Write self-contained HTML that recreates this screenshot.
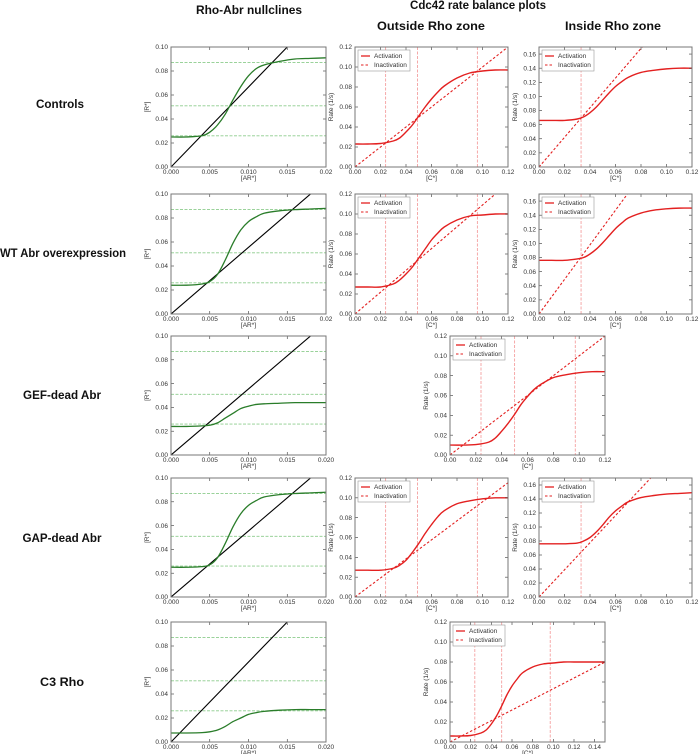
<!DOCTYPE html>
<html><head><meta charset="utf-8"><style>
html,body{margin:0;padding:0;background:#fff;}
svg{display:block;font-family:"Liberation Sans",sans-serif;}
.hdr{font-weight:bold;font-size:12px;fill:#111;}
.tk{font-size:6.5px;fill:#333;}
.al{font-size:6.5px;fill:#333;}
</style></head><body>
<svg id="fig" width="700" height="754" viewBox="0 0 700 754">
<text class="hdr" x="249" y="14" text-anchor="middle" textLength="106" lengthAdjust="spacingAndGlyphs">Rho-Abr nullclines</text>
<text class="hdr" x="478" y="9" text-anchor="middle" textLength="136" lengthAdjust="spacingAndGlyphs">Cdc42 rate balance plots</text>
<text class="hdr" x="431" y="30" text-anchor="middle" textLength="108" lengthAdjust="spacingAndGlyphs">Outside Rho zone</text>
<text class="hdr" x="613" y="30" text-anchor="middle" textLength="96" lengthAdjust="spacingAndGlyphs">Inside Rho zone</text>
<text class="hdr" x="60" y="108" text-anchor="middle" textLength="48" lengthAdjust="spacingAndGlyphs">Controls</text>
<text class="hdr" x="63" y="257" text-anchor="middle" textLength="126" lengthAdjust="spacingAndGlyphs">WT Abr overexpression</text>
<text class="hdr" x="62" y="399" text-anchor="middle" textLength="78" lengthAdjust="spacingAndGlyphs">GEF-dead Abr</text>
<text class="hdr" x="62" y="542" text-anchor="middle" textLength="79" lengthAdjust="spacingAndGlyphs">GAP-dead Abr</text>
<text class="hdr" x="62" y="686" text-anchor="middle" textLength="44" lengthAdjust="spacingAndGlyphs">C3 Rho</text>
</svg>
<script>
// ---------- Nullcline data ----------
const nullX = [0,0.002,0.004,0.005,0.006,0.007,0.008,0.009,0.010,0.011,0.012,0.014,0.016,0.018,0.020];
const greenRow1 = [0.025,0.025,0.026,0.029,0.035,0.044,0.056,0.067,0.076,0.082,0.085,0.088,0.090,0.0905,0.091];
const greenRow2 = [0.024,0.024,0.025,0.027,0.033,0.045,0.059,0.070,0.077,0.081,0.084,0.086,0.087,0.0875,0.088];
const greenRow3 = [0.024,0.024,0.0245,0.025,0.027,0.031,0.035,0.039,0.041,0.0425,0.043,0.0435,0.044,0.044,0.044];
const greenRow4 = [0.025,0.025,0.0255,0.027,0.033,0.045,0.059,0.070,0.077,0.081,0.084,0.086,0.087,0.0875,0.088];
const greenRow5 = [0.0075,0.0075,0.0078,0.0085,0.010,0.013,0.017,0.020,0.023,0.0245,0.0255,0.0265,0.027,0.027,0.027];
const blackSlopeX = [0.015,0.018,0.018,0.018,0.015]; // x where black line reaches R*=0.10
const greenDashLevels = [0.026,0.051,0.087];
const nullXTicks = [0,0.005,0.010,0.015,0.020];
const nullXTickLabelsA = ["0.000","0.005","0.010","0.015","0.02"];
const nullXTickLabelsB = ["0.000","0.005","0.010","0.015","0.020"];
const nullYTicks = [0,0.02,0.04,0.06,0.08,0.10];
const nullYTickLabels = ["0.00","0.02","0.04","0.06","0.08","0.10"];

// ---------- Rate balance data ----------
const cX = [0,0.01,0.02,0.03,0.035,0.04,0.045,0.05,0.055,0.06,0.065,0.07,0.08,0.09,0.10,0.11,0.12];
const actR1Out = [0.023,0.023,0.0235,0.026,0.029,0.035,0.042,0.051,0.060,0.068,0.075,0.081,0.089,0.094,0.096,0.097,0.097];
const actR1In  = [0.066,0.066,0.066,0.068,0.071,0.077,0.085,0.095,0.105,0.114,0.121,0.127,0.134,0.137,0.139,0.140,0.140];
const actR2Out = [0.027,0.027,0.027,0.030,0.034,0.040,0.047,0.056,0.065,0.074,0.081,0.087,0.094,0.098,0.099,0.100,0.100];
const actR2In  = [0.076,0.076,0.076,0.078,0.080,0.085,0.092,0.101,0.111,0.121,0.129,0.136,0.143,0.147,0.149,0.150,0.150];
const actR3    = [0.010,0.010,0.0105,0.013,0.017,0.024,0.032,0.041,0.051,0.059,0.066,0.071,0.078,0.081,0.083,0.084,0.084];
const actR4Out = [0.027,0.027,0.027,0.029,0.032,0.037,0.045,0.054,0.064,0.073,0.081,0.087,0.094,0.097,0.099,0.100,0.100];
const actR4In  = [0.076,0.076,0.076,0.077,0.080,0.085,0.093,0.103,0.114,0.123,0.130,0.136,0.142,0.145,0.147,0.148,0.149];
const cX5 = [0,0.01,0.02,0.03,0.035,0.04,0.045,0.05,0.055,0.06,0.065,0.07,0.08,0.09,0.10,0.11,0.12,0.13,0.14,0.15];
const actR5    = [0.006,0.006,0.0065,0.009,0.012,0.018,0.026,0.036,0.047,0.056,0.063,0.069,0.075,0.078,0.079,0.080,0.080,0.080,0.080,0.080];
const inactSlopes = {r1o:1.0, r1i:2.1, r2o:1.09, r2i:2.45, r3:1.0, r4o:0.96, r4i:1.94, r5:0.533};
const vOutside = [0.024,0.049,0.096];
const vInside = [0.033];
const vR3R5 = [0.024,0.050,0.097];
const cXTicks12 = [0,0.02,0.04,0.06,0.08,0.10,0.12];
const cXTickLabels12 = ["0.00","0.02","0.04","0.06","0.08","0.10","0.12"];
const cXTicks15 = [0,0.02,0.04,0.06,0.08,0.10,0.12,0.14];
const cXTickLabels15 = ["0.00","0.02","0.04","0.06","0.08","0.10","0.12","0.14"];
const cYTicks12 = [0,0.02,0.04,0.06,0.08,0.10,0.12];
const cYTickLabels12 = ["0.00","0.02","0.04","0.06","0.08","0.10","0.12"];
const cYTicks16 = [0,0.02,0.04,0.06,0.08,0.10,0.12,0.14,0.16];
const cYTickLabels16 = ["0.00","0.02","0.04","0.06","0.08","0.10","0.12","0.14","0.16"];

const NS="http://www.w3.org/2000/svg";
const svg=document.getElementById('fig');
function mk(tag,attrs,parent){const e=document.createElementNS(NS,tag);for(const k in attrs)e.setAttribute(k,attrs[k]);(parent||svg).appendChild(e);return e;}
function smoothPath(pts){
  let d="M"+pts[0][0].toFixed(2)+","+pts[0][1].toFixed(2);
  for(let i=0;i<pts.length-1;i++){
    const p0=pts[Math.max(0,i-1)],p1=pts[i],p2=pts[i+1],p3=pts[Math.min(pts.length-1,i+2)];
    const c1=[p1[0]+(p2[0]-p0[0])/6,p1[1]+(p2[1]-p0[1])/6];
    const c2=[p2[0]-(p3[0]-p1[0])/6,p2[1]-(p3[1]-p1[1])/6];
    d+=" C"+c1[0].toFixed(2)+","+c1[1].toFixed(2)+" "+c2[0].toFixed(2)+","+c2[1].toFixed(2)+" "+p2[0].toFixed(2)+","+p2[1].toFixed(2);
  }
  return d;
}

function axes(id,L,T,R,B,xmax,ymax,xt,xtl,yt,ytl,xlab,ylab){
  const g=mk('g',{});
  
  
  const sx=v=>L+(v/xmax)*(R-L), sy=v=>B-(v/ymax)*(B-T);
  const cid='clip-'+id;
  const cp=mk('clipPath',{id:cid},g); mk('rect',{x:L,y:T,width:R-L,height:B-T},cp);
  const plot=mk('g',{'clip-path':'url(#'+cid+')'},g);
  xt.forEach((v,i)=>{
    const x=sx(v);
    const tick=mk('line',{x1:x,x2:x,y1:B,y2:B-3,stroke:'#333','stroke-width':0.6},g);
    
    
    mk('line',{x1:x,x2:x,y1:T,y2:T+3,stroke:'#333','stroke-width':0.6},g);
    const t=mk('text',{x:x,y:B+7,'text-anchor':'middle',class:'tk'},g);
    
    
    t.textContent=xtl[i];
  });
  yt.forEach((v,i)=>{
    const y=sy(v);
    mk('line',{x1:L,x2:L+3,y1:y,y2:y,stroke:'#333','stroke-width':0.6},g);
    mk('line',{x1:R,x2:R-3,y1:y,y2:y,stroke:'#333','stroke-width':0.6},g);
    const t=mk('text',{x:L-3,y:y+2.2,'text-anchor':'end',class:'tk'},g);
    
    
    t.textContent=ytl[i];
  });
  const xl=mk('text',{x:(L+R)/2,y:B+13,'text-anchor':'middle',class:'al'},g);
  
  
  xl.textContent=xlab;
  const yx=L-22, yy=(T+B)/2;
  const yl=mk('text',{x:yx,y:yy,'text-anchor':'middle',class:'al',transform:'rotate(-90 '+yx+' '+yy+')'},g);
  
  
  yl.textContent=ylab;
  return {g,plot,sx,sy,L,T,R,B};
}
function frame(a){
  const f=mk('rect',{x:a.L,y:a.T,width:a.R-a.L,height:a.B-a.T,fill:'none',stroke:'#777','stroke-width':1},a.g);
  
  
}

function nullcline(name,L,T,R,B,green,slopeX,xtl){
  const a=axes(name,L,T,R,B,0.02,0.10,nullXTicks,xtl,nullYTicks,nullYTickLabels,'[AR*]','[R*]');
  greenDashLevels.forEach(v=>{
    const l=mk('line',{x1:L,x2:R,y1:a.sy(v),y2:a.sy(v),stroke:'#8ccc8c','stroke-width':0.9,'stroke-dasharray':'3,1.5'},a.plot);
    
    
  });
  const bl=mk('line',{x1:a.sx(0),y1:a.sy(0),x2:a.sx(slopeX*1.1),y2:a.sy(0.10*1.1),stroke:'#000','stroke-width':1.1},a.plot);
  
  
  const gp=mk('path',{d:smoothPath(nullX.map((x,i)=>[a.sx(x),a.sy(green[i])])),fill:'none',stroke:'#2a7d2a','stroke-width':1.3},a.plot);
  
  
  frame(a);
}

function rate(name,L,T,R,B,xs,act,slope,vlines,xmax,ymax,xt,xtl,yt,ytl){
  const a=axes(name,L,T,R,B,xmax,ymax,xt,xtl,yt,ytl,'[C*]','Rate (1/s)');
  vlines.forEach(v=>{
    const l=mk('line',{x1:a.sx(v),x2:a.sx(v),y1:T,y2:B,stroke:'#f4a0a0','stroke-width':0.9,'stroke-dasharray':'3,1.5'},a.plot);
    
    
  });
  const il=mk('line',{x1:a.sx(0),y1:a.sy(0),x2:a.sx(xmax),y2:a.sy(slope*xmax),stroke:'#e32020','stroke-width':1.1,'stroke-dasharray':'2.5,2'},a.plot);
  
  
  const ap=mk('path',{d:smoothPath(xs.map((x,i)=>[a.sx(x),a.sy(act[i])])),fill:'none',stroke:'#e32020','stroke-width':1.4},a.plot);
  
  
  const lg=mk('g',{},a.g);
  
  
  mk('rect',{x:L+3,y:T+3,width:52,height:21,fill:'#fff',stroke:'#999','stroke-width':0.6},lg);
  mk('line',{x1:L+6,x2:L+15,y1:T+9,y2:T+9,stroke:'#e32020','stroke-width':1.3},lg);
  mk('line',{x1:L+6,x2:L+15,y1:T+18,y2:T+18,stroke:'#e32020','stroke-width':1.1,'stroke-dasharray':'2.5,2'},lg);
  const t1=mk('text',{x:L+19,y:T+11,class:'tk'},lg); t1.textContent='Activation';
  
  
  const t2=mk('text',{x:L+19,y:T+20,class:'tk'},lg); t2.textContent='Inactivation';
  
  
  frame(a);
}

const rowsY=[[47,167],[194,314],[336,455],[478,597],[622,742]];
const greens=[greenRow1,greenRow2,greenRow3,greenRow4,greenRow5];
greens.forEach((g,i)=>{
  nullcline('nullcline-row'+(i+1),171,rowsY[i][0],326,rowsY[i][1],g,blackSlopeX[i],i<2?nullXTickLabelsA:nullXTickLabelsB);
});
rate('rate-row1-outside',355,47,508,167,cX,actR1Out,inactSlopes.r1o,vOutside,0.12,0.12,cXTicks12,cXTickLabels12,cYTicks12,cYTickLabels12);
rate('rate-row1-inside',539,47,692,167,cX,actR1In,inactSlopes.r1i,vInside,0.12,0.17,cXTicks12,cXTickLabels12,cYTicks16,cYTickLabels16);
rate('rate-row2-outside',355,194,508,314,cX,actR2Out,inactSlopes.r2o,vOutside,0.12,0.12,cXTicks12,cXTickLabels12,cYTicks12,cYTickLabels12);
rate('rate-row2-inside',539,194,692,314,cX,actR2In,inactSlopes.r2i,vInside,0.12,0.17,cXTicks12,cXTickLabels12,cYTicks16,cYTickLabels16);
rate('rate-row3',450,336,605,455,cX,actR3,inactSlopes.r3,vR3R5,0.12,0.12,cXTicks12,cXTickLabels12,cYTicks12,cYTickLabels12);
rate('rate-row4-outside',355,478,508,597,cX,actR4Out,inactSlopes.r4o,vOutside,0.12,0.12,cXTicks12,cXTickLabels12,cYTicks12,cYTickLabels12);
rate('rate-row4-inside',539,478,692,597,cX,actR4In,inactSlopes.r4i,vInside,0.12,0.17,cXTicks12,cXTickLabels12,cYTicks16,cYTickLabels16);
rate('rate-row5',450,622,605,742,cX5,actR5,inactSlopes.r5,vR3R5,0.15,0.12,cXTicks15,cXTickLabels15,cYTicks12,cYTickLabels12);
</script>
</body></html>
